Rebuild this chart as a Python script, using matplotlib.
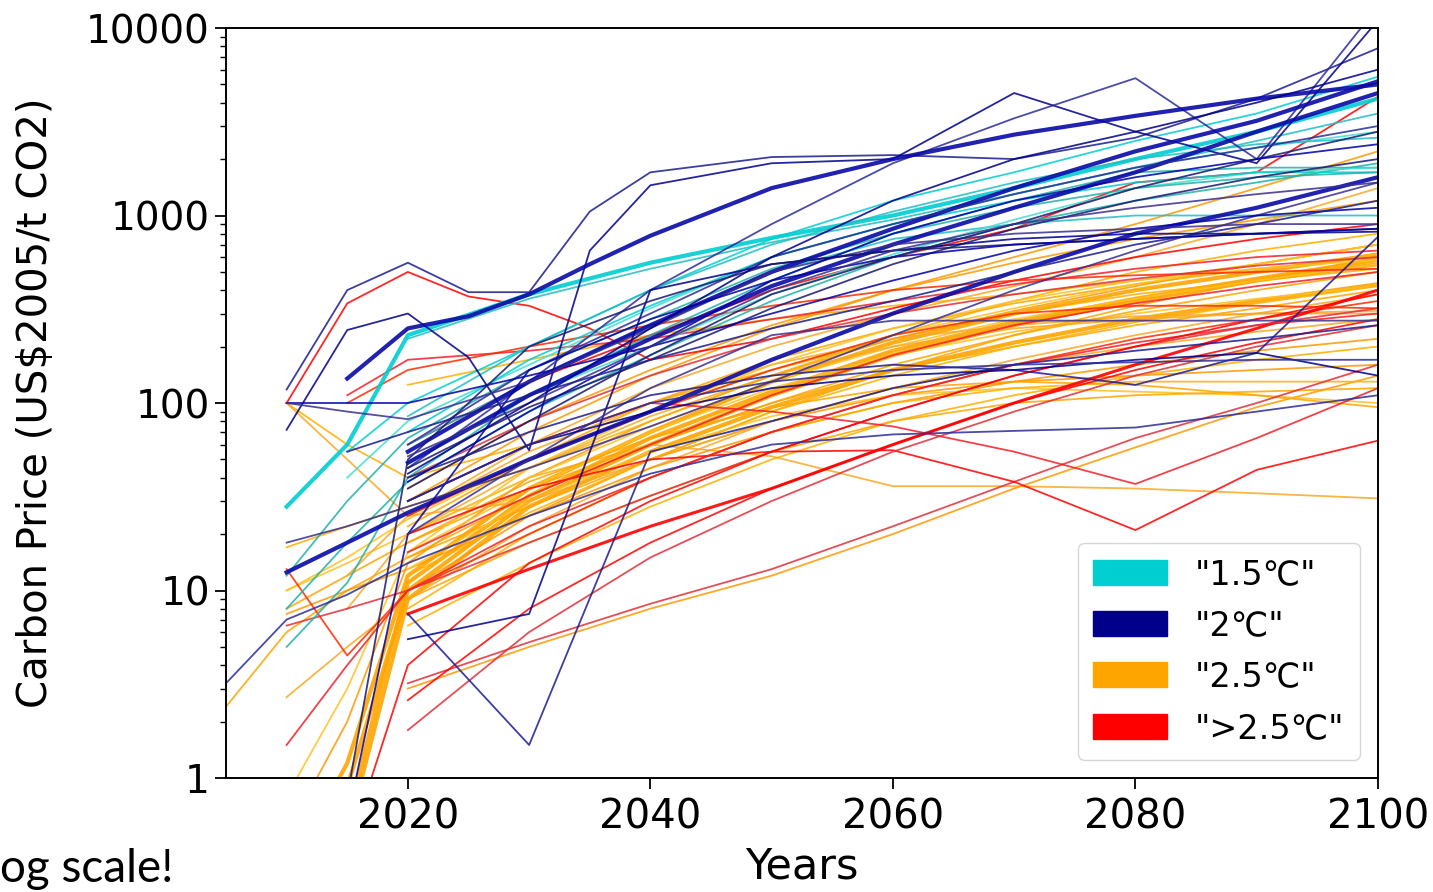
# carbon price pathways by temperature category (log scale)

import numpy as np
import matplotlib
matplotlib.use("Agg")
import matplotlib.pyplot as plt
from matplotlib.patches import Patch
from matplotlib.ticker import FixedLocator, FixedFormatter

_ = None

YEARS = [2005, 2010, 2015, 2020, 2025, 2030, 2035, 2040, 2050, 2060, 2070, 2080, 2090, 2100]

LABELS = ['"1.5\u2103"', '"2\u2103"', '"2.5\u2103"', '">2.5\u2103"']

# "1.5C" scenarios
cyan_runs = [
    [_, 28, 60, 230, _, 380, _, 560, 760, 1000, 1400, 2000, 2800, 4200],
    [_, _, _, 220, _, 360, _, 520, 720, 950, 1300, 1800, 2500, 3500],
    [_, 5, 11, 40, _, 110, _, 230, 450, 800, 1200, 1700, 1800, 1800],
    [_, _, 40, 80, _, 160, _, 320, 600, 900, 1300, 1800, 2300, 2800],
    [_, _, 55, 100, _, 200, _, 400, 750, 1200, 1700, 2500, 3500, 5500],
    [_, _, _, 60, _, 130, _, 260, 500, 750, 900, 1000, 1000, 1000],
    [_, 8, 18, 38, _, 90, _, 180, 350, 600, 900, 1200, 1500, 1900],
    [_, _, _, 48, _, 110, _, 200, 380, 620, 950, 1400, 1700, 1800],
    [_, _, _, 70, _, 170, _, 330, 600, 900, 1200, 1500, 1700, 1700],
    [_, _, _, 85, _, 200, _, 400, 700, 1050, 1500, 2000, 2400, 2600],
    [_, 12, 30, 65, _, 150, _, 280, 520, 800, 1100, 1400, 1600, 1700],
]

# "2C" scenarios
navy_runs = [
    [_, 118, 400, 560, 390, 390, 1050, 1700, 2050, 2100, 2000, 2600, 4200, 7800],
    [_, 72, 245, 300, 175, 56, 650, 1450, 1900, 2000, 4500, 2800, 1900, 11000],
    [_, _, _, 45, _, 130, _, 400, 900, 1900, 3300, 5400, 2000, 13000],
    [_, _, 135, 250, 290, 380, 550, 780, 1400, 2000, 2700, 3400, 4200, 5000],
    [_, 12.5, 18, 26, _, 50, _, 90, 170, 300, 500, 800, 1100, 1600],
    [_, 18, 22, 28, _, 45, _, 75, 130, 230, 400, 650, 1000, 1500],
    [_, _, _, 48, _, 110, _, 220, 420, 700, 1100, 1700, 2800, 4500],
    [_, _, _, 55, _, 130, _, 260, 500, 850, 1400, 2200, 3200, 5200],
    [_, _, _, 60, _, 150, _, 300, 600, 900, 1300, 1800, 2300, 3000],
    [_, _, _, 45, _, 95, _, 170, 320, 550, 850, 1200, 1600, 2000],
    [_, 100, 100, 100, _, 140, _, 200, 300, 450, 650, 850, 1000, 1100],
    [_, 100, 90, 82, _, 130, _, 250, 500, 700, 800, 850, 900, 900],
    [_, _, _, 7.5, _, 1.5, _, 55, 80, 120, 160, 190, 220, 260],
    [_, _, _, 5.5, _, 7.5, _, 400, 550, 650, 750, 800, 800, 820],
    [3.2, 7, 9.5, 14, _, 25, _, 42, 60, 68, 71, 74, 90, 110],
    [_, 0.15, 0.8, 50, _, 200, _, 350, 550, 650, 700, 750, 800, 850],
    [_, 0.1, 0.6, 20, _, 150, _, 280, 450, 600, 700, 750, 800, 850],
    [_, _, _, 20, _, 50, _, 120, 230, 275, 275, 275, 275, 275],
    [_, _, _, 40, _, 70, _, 110, 140, 160, 150, 125, 185, 770],
    [_, _, _, 30, _, 60, _, 90, 120, 140, 150, 170, 185, 140],
    [_, _, _, 30, _, 60, _, 100, 130, 150, 160, 165, 170, 170],
    [_, _, _, 35, _, 80, _, 180, 380, 600, 900, 1400, 2000, 2800],
    [_, _, _, 38, _, 90, _, 200, 450, 800, 1200, 1600, 2000, 2400],
    [_, _, _, 52, _, 100, _, 200, 400, 650, 900, 1100, 1300, 1500],
    [_, _, 55, 70, _, 110, _, 170, 250, 350, 500, 700, 900, 1200],
    [_, _, _, 42, _, 100, _, 250, 600, 1200, 2000, 2800, 4000, 6000],
]

# "2.5C" scenarios
orange_runs = [
    [2.4, 6, 10, 15, _, 28, _, 50, 90, 150, 230, 330, 450, 600],
    [_, 100, 60, 40, _, 60, _, 100, 150, 220, 300, 380, 450, 520],
    [_, _, 8, 20, _, 40, _, 60, 52, 36, 36, 35, 33, 31],
    [_, _, _, 3.0, _, 5, _, 8, 12, 20, 35, 58, 95, 140],
    [_, 0.2, 0.9, 10, _, 30, _, 60, 110, 180, 260, 350, 450, 550],
    [_, 0.3, 1.2, 12, _, 35, _, 70, 130, 210, 300, 400, 500, 620],
    [_, _, 0.5, 9, _, 28, _, 55, 95, 150, 210, 280, 350, 430],
    [_, _, 0.6, 11, _, 32, _, 65, 115, 190, 270, 360, 460, 580],
    [_, 0.5, 2, 14, _, 40, _, 80, 140, 220, 310, 420, 550, 700],
    [_, 10, 14, 20, _, 40, _, 75, 130, 200, 280, 360, 450, 550],
    [_, 8, 12, 18, _, 35, _, 60, 100, 150, 200, 260, 320, 400],
    [_, 17, 22, 28, _, 45, _, 80, 140, 230, 350, 500, 650, 800],
    [_, 2.7, 5, 9, _, 22, _, 45, 80, 120, 160, 200, 240, 280],
    [_, 7.5, 10, 13, _, 25, _, 45, 70, 100, 130, 160, 190, 220],
    [_, _, _, 16, _, 35, _, 70, 120, 180, 240, 300, 360, 420],
    [_, _, _, 22, _, 50, _, 100, 170, 250, 340, 430, 520, 600],
    [_, _, _, 125, _, 170, _, 230, 280, 330, 380, 450, 550, 700],
    [_, _, 12, 25, _, 55, _, 100, 160, 220, 260, 290, 300, 310],
    [_, _, _, 10, _, 25, _, 50, 80, 110, 130, 140, 150, 160],
    [_, _, _, 13, _, 30, _, 55, 85, 110, 120, 115, 110, 100],
    [_, _, _, 18, _, 38, _, 65, 95, 120, 130, 125, 110, 95],
    [_, _, _, 8, _, 20, _, 40, 70, 100, 120, 130, 130, 130],
    [_, _, _, 25, _, 60, _, 120, 200, 300, 420, 600, 900, 1400],
    [_, _, _, 30, _, 70, _, 140, 250, 400, 600, 900, 1400, 2200],
    [_, 10, 15, 24, _, 50, _, 90, 150, 230, 320, 430, 550, 700],
    [_, _, _, 15, _, 32, _, 60, 100, 160, 230, 310, 400, 500],
    [_, _, _, 12, _, 26, _, 50, 90, 140, 200, 270, 340, 420],
    [_, _, _, 20, _, 45, _, 85, 140, 200, 250, 280, 300, 300],
    [_, _, _, 35, _, 80, _, 150, 260, 400, 560, 750, 950, 1200],
    [_, 0.8, 3, 16, _, 45, _, 90, 160, 250, 350, 450, 520, 580],
    [_, _, _, 9, _, 18, _, 32, 55, 80, 100, 110, 115, 120],
    [_, _, _, 6.5, _, 14, _, 28, 50, 80, 110, 140, 170, 200],
    [_, 100, 50, 25, _, 30, _, 50, 80, 120, 170, 230, 300, 380],
]

# ">2.5C" scenarios
red_runs = [
    [_, 100, 340, 500, 370, 330, 250, 170, 220, 320, 450, 600, 750, 900],
    [_, _, 110, 170, _, 190, _, 220, 280, 350, 430, 520, 600, 650],
    [_, _, 100, 150, _, 200, _, 260, 330, 400, 450, 480, 500, 520],
    [_, _, _, 3.2, _, 5.3, _, 8.5, 13, 22, 38, 65, 100, 160],
    [_, _, _, 20, _, 35, _, 50, 55, 56, 38, 21, 44, 63],
    [_, _, _, 30, _, 60, _, 100, 90, 75, 55, 37, 65, 120],
    [_, 13, 4.5, 10, _, 20, _, 40, 70, 110, 160, 220, 280, 350],
    [_, _, _, 1.8, _, 6, _, 15, 30, 55, 90, 140, 200, 260],
    [_, _, _, 2.6, _, 8, _, 18, 35, 60, 100, 150, 210, 280],
    [_, 1.5, 4, 10, _, 22, _, 40, 70, 110, 160, 210, 260, 300],
    [_, _, _, 7.5, _, 13, _, 22, 35, 60, 100, 160, 250, 400],
    [_, 6.5, 8, 10, _, 18, _, 32, 55, 90, 140, 200, 260, 320],
    [_, _, 0.4, 4, _, 14, _, 30, 55, 90, 140, 200, 280, 380],
    [_, _, _, 16, _, 32, _, 60, 110, 180, 260, 340, 420, 500],
    [_, _, _, 25, _, 50, _, 90, 150, 230, 300, 330, 330, 320],
    [_, _, _, 40, _, 80, _, 140, 220, 300, 380, 460, 540, 600],
    [_, _, _, 60, _, 130, _, 230, 400, 600, 850, 1500, 1700, 4300],
]

cyan_cols = ['#00CED1', '#1fbfc4', '#20B2AA', '#40E0D0']
navy_cols = ['#1c1c8f', '#00008B', '#2b2b99', '#191970', '#0000a8', '#3a2f8f']
orange_cols = ['#FFA500', '#FFB000', '#F9A825', '#FF9800', '#FFC125']
red_cols = ['#FF0000', '#F0202A', '#FF2A00', '#E0303A']


def draw(ax, runs, cols, thick, thick_col, thick_lw=3.0):
    x = np.array(YEARS, dtype=float)
    for i, run in enumerate(runs):
        y = np.array([np.nan if v is None else v for v in run], dtype=float)
        ok = ~np.isnan(y)
        if i in thick:
            ax.plot(x[ok], y[ok], color=thick_col, lw=thick_lw, alpha=0.9)
        else:
            ax.plot(x[ok], y[ok], color=cols[i % len(cols)], lw=1.3, alpha=0.85)


fig = plt.figure(figsize=(14.33, 8.92), dpi=100)
ax = fig.add_axes([0.1577, 0.1278, 0.8039, 0.8408])

draw(ax, orange_runs, orange_cols, [4, 5, 6, 7], '#FFA500')
draw(ax, red_runs, red_cols, [10], '#FF0000', 2.2)
draw(ax, cyan_runs, cyan_cols, [0], '#00CED1')
draw(ax, navy_runs, navy_cols, [3, 4, 6, 7], '#0a0aa8')

ax.set_yscale('log')
ax.set_xlim(2005, 2100)
ax.set_ylim(1, 10000)
ax.yaxis.set_major_locator(FixedLocator([1, 10, 100, 1000, 10000]))
ax.yaxis.set_major_formatter(FixedFormatter(['1', '10', '100', '1000', '10000']))
ax.set_xticks([2020, 2040, 2060, 2080, 2100])

ax.tick_params(axis='x', labelsize=29, length=8, width=1.3, pad=6)
ax.tick_params(axis='y', which='major', labelsize=28, length=8, width=1.3)
ax.tick_params(axis='y', which='minor', length=4, width=1.0)
for s in ax.spines.values():
    s.set_linewidth(1.4)

ax.set_xlabel('Years', fontsize=31, labelpad=6)
ax.set_ylabel('Carbon Price (US$2005/t CO2)', fontsize=29, labelpad=22)

handles = [Patch(color=c) for c in ['#00CED1', '#00008B', '#FFA500', '#FF0000']]
ax.legend(handles, LABELS, loc='lower right', fontsize=24, handlelength=2.2,
          handleheight=0.78, labelspacing=0.55, handletextpad=0.85,
          borderaxespad=0.55, borderpad=0.45)

fig.text(0.0, 0.002, 'og scale!', fontsize=33, family='Lato', ha='left', va='bottom')

fig.savefig('out.png', dpi=100)
